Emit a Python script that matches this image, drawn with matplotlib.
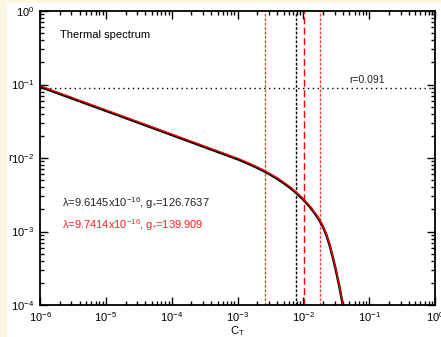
import matplotlib
matplotlib.use("Agg")
import matplotlib.pyplot as plt
from matplotlib.patches import Rectangle
from matplotlib.ticker import LogLocator, NullFormatter

plt.rcParams['font.family'] = ['Liberation Sans', 'DejaVu Sans']
plt.rcParams['mathtext.fontset'] = 'custom'
plt.rcParams['mathtext.rm'] = 'Liberation Sans'
plt.rcParams['mathtext.it'] = 'Liberation Sans:italic'

# Tensor-to-scalar ratio r as a function of C_T
ct_black = [1e-6, 3.162e-6, 1e-5, 3.162e-5, 1e-4, 3.162e-4, 1e-3, 1.259e-3,
            1.585e-3, 1.995e-3, 2.512e-3, 3.162e-3, 3.981e-3, 5.012e-3,
            6.310e-3, 7.943e-3, 1e-2, 1.259e-2, 1.585e-2, 1.778e-2,
            1.995e-2, 2.239e-2, 2.512e-2, 2.818e-2, 3.162e-2, 3.548e-2,
            3.981e-2, 4.467e-2]
r_black = [0.0933, 0.0640, 0.0439, 0.0301, 0.0206, 0.0141, 0.00964, 0.00885,
           0.00809, 0.00735, 0.00663, 0.00592, 0.00524, 0.00457,
           0.00393, 0.00330, 0.00271, 0.00216, 0.00164, 0.00139,
           0.00115, 0.000896, 0.000646, 0.000437, 0.000282, 0.000173,
           0.000100, 0.000055]
ct_red = ct_black
r_red = [0.0961, 0.0659, 0.0452, 0.0310, 0.0212, 0.01452, 0.00993, 0.00912,
         0.00833, 0.00757, 0.00683, 0.00610, 0.00540, 0.00471,
         0.00405, 0.00340, 0.00279, 0.00222, 0.00169, 0.00143,
         0.00118, 0.000923, 0.000665, 0.000450, 0.000290, 0.000178,
         0.000103, 0.0000567]

r_ref = 0.091
ct_black_mark = 7.82e-3
ct_red_mark = 1.02e-2
ct_red_band = [2.62e-3, 1.79e-2]

label_black = 'λ=9.6145x10$^{-16}$, g$_{*}$=126.7637'
label_red = 'λ=9.7414x10$^{-16}$, g$_{*}$=139.909'

fig = plt.figure(figsize=(4.41, 3.37), dpi=100)
fig.patch.set_facecolor('white')
cream = '#FDF8E4'
fig.patches.append(Rectangle((0, 0), 7 / 441, 1, transform=fig.transFigure,
                             facecolor=cream, edgecolor='none', zorder=-10))
fig.patches.append(Rectangle((0, 1 - 3 / 337), 1, 3 / 337, transform=fig.transFigure,
                             facecolor=cream, edgecolor='none', zorder=-10))

ax = fig.add_axes([40 / 441, 1 - 305 / 337, 395 / 441, 294 / 337])
ax.set_xscale('log')
ax.set_yscale('log')
ax.set_xlim(1e-6, 1)
ax.set_ylim(1e-4, 1)

ax.axhline(r_ref, color='black', lw=1.0, ls=(0, (1, 2.5)))
for c in ct_red_band:
    ax.axvline(c, color='#FF3838', lw=1.0, ls=(0, (2, 1.2)))
ax.axvline(ct_black_mark, color='black', lw=1.0, ls=(0, (2, 1.2)))
ax.axvline(ct_red_mark, color='#FF0000', lw=1.0, ls=(0, (5, 2.5)))

ax.plot(ct_black, r_black, color='black', lw=1.8)
ax.plot(ct_red, r_red, color='#FF0000', lw=0.9)

ax.text(10**-1.31, 0.099, 'r=0.091', fontsize=7.5, color='#222222', va='bottom')
ax.text(10**-5.7, 10**-0.32, 'Thermal spectrum', fontsize=8, va='center')
ax.text(10**-5.67, 10**-2.612, label_black, fontsize=8, va='center', color='#222222')
ax.text(10**-5.67, 10**-2.912, label_red, fontsize=8, va='center', color='#FF2020')

ax.set_xlabel(r'C$_\mathregular{T}$', fontsize=8, labelpad=0)
ax.set_ylabel('r', fontsize=8, rotation=0, ha='center', va='center')
ax.yaxis.set_label_coords(-30 / 395, 0.5)

for axis in (ax.xaxis, ax.yaxis):
    axis.set_major_locator(LogLocator(base=10, numticks=10))
    axis.set_minor_locator(LogLocator(base=10, subs=range(2, 10), numticks=10))
    axis.set_minor_formatter(NullFormatter())
ax.tick_params(which='both', direction='in', top=True, right=True,
               labelsize=8, width=1.0, colors='black')
ax.tick_params(which='major', length=6)
ax.tick_params(which='minor', length=3)
ax.tick_params(axis='x', pad=4)
ax.tick_params(axis='y', pad=4)
for s in ax.spines.values():
    s.set_linewidth(1.3)

fig.savefig('out.png', dpi=100)
